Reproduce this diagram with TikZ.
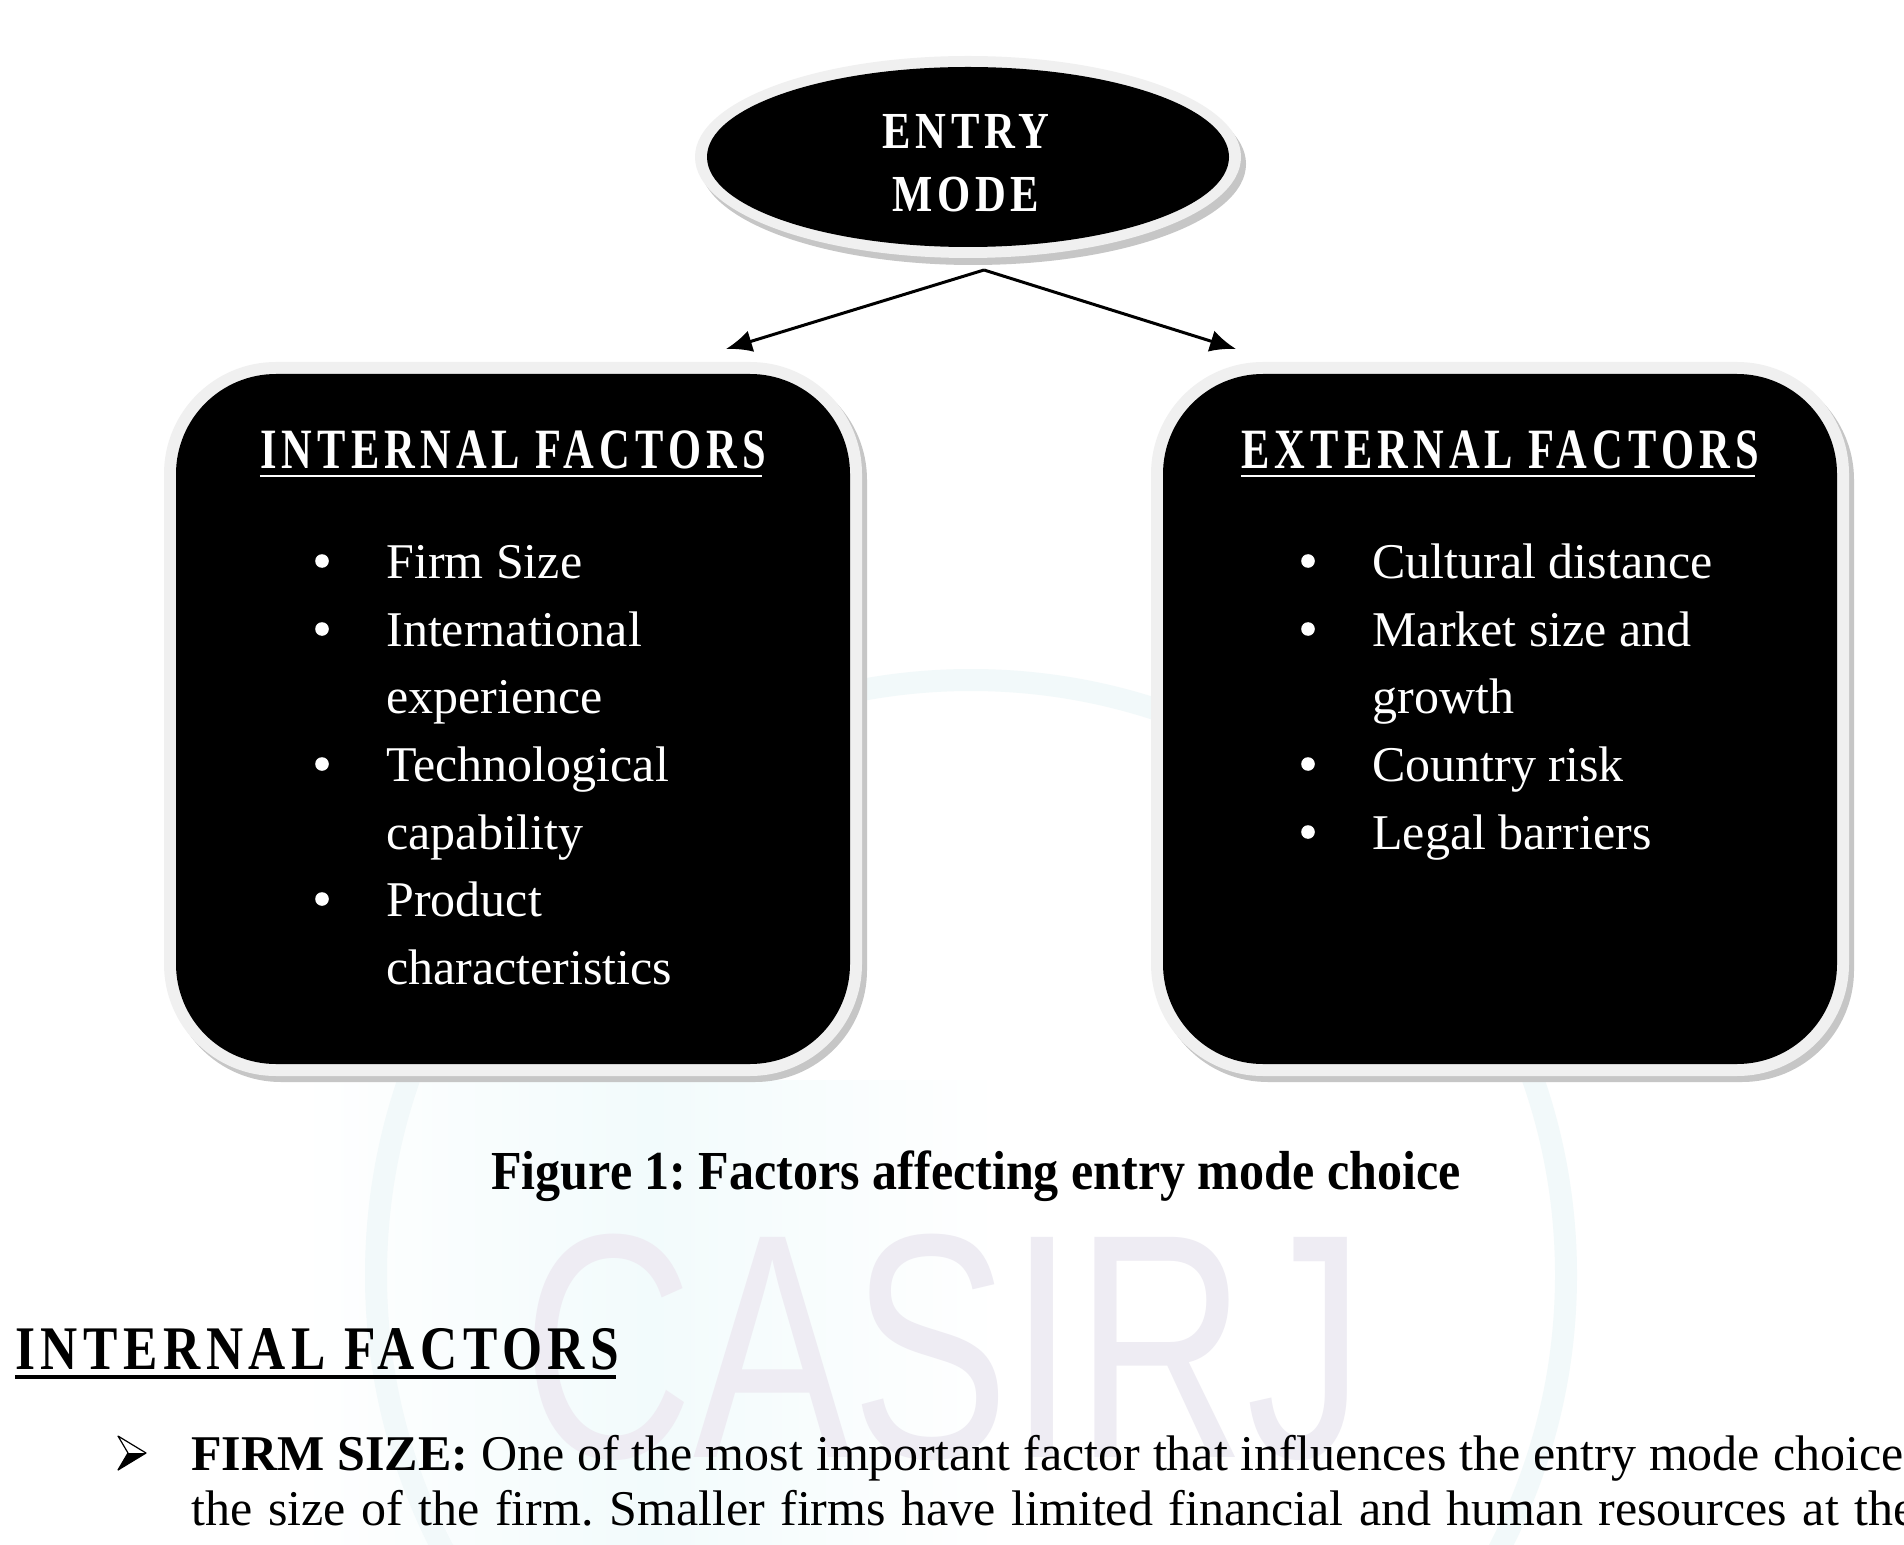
\documentclass[tikz,border=0pt]{standalone}
\usepackage{fontspec}
\setmainfont{Liberation Serif}
\newfontfamily\ellfont[FakeStretch=0.82,LetterSpace=9]{Liberation Serif}
\newfontfamily\boxhdfont[FakeStretch=0.745,LetterSpace=9]{Liberation Serif}
\newfontfamily\bighdfont[FakeStretch=0.83,LetterSpace=9]{Liberation Serif}
\newfontfamily\capfont[FakeStretch=0.91]{Liberation Serif}
\newfontfamily\wmfont[FakeStretch=0.74]{Liberation Sans}
\usetikzlibrary{arrows.meta,shapes.geometric}
\definecolor{ringgray}{RGB}{240,240,240}
\definecolor{shadegray}{RGB}{198,198,198}
\definecolor{wmcyan}{RGB}{242,249,250}
\definecolor{wmlav}{RGB}{238,236,243}
\definecolor{wmtint}{RGB}{242,251,252}
\tikzset{
  ringshape/.style={fill=ringgray, draw=none, inner sep=0},
  shadeshape/.style={fill=shadegray, draw=none, inner sep=0},
  boxshape/.style={fill=black, draw=none, inner sep=0},
  itemtext/.style={anchor=base west, text=white, inner sep=0, font=\fontsize{25}{30}\selectfont},
  bulletdot/.style={circle, fill=white, inner sep=0, minimum size=6.8pt},
  boxtitle/.style={anchor=base, text=white, inner sep=0, font=\boxhdfont\bfseries\fontsize{28.5}{30}\selectfont},
  conn/.style={line width=1.5pt, -{Latex[length=13pt,width=11pt]}},
  bodytext/.style={anchor=base west, inner sep=0, font=\fontsize{25}{30}\selectfont}
}
\frenchspacing
\begin{document}
\begin{tikzpicture}[x=0.5pt,y=-0.5pt]
\useasboundingbox (0,0) rectangle (1904,1545);
\fill[white] (0,0) rectangle (1904,1545);
% faint watermark
\fill[left color=white, right color=white, middle color=wmtint] (300,1080) rectangle (1000,1545);
\draw[wmcyan, line width=11pt] (971,1275) circle [radius=595];
\node[anchor=base west, inner sep=0, text=wmlav, font=\wmfont\fontsize{160}{160}\selectfont] (wm) at (522,1457) {CASIRJ};

% entry mode ellipse
\node[ellipse, shadeshape, minimum width=273pt, minimum height=101pt] (emshadow) at (973,164) {};
\node[ellipse, ringshape, minimum width=273pt, minimum height=101pt] (emring) at (968,157) {};
\node[ellipse, boxshape, minimum width=261pt, minimum height=90pt] (em) at (968,157) {};
\node[anchor=base, text=white, inner sep=0, font=\ellfont\bfseries\fontsize{26}{30}\selectfont] (em1) at (966,149) {ENTRY};
\node[anchor=base, text=white, inner sep=0, font=\ellfont\bfseries\fontsize{26}{30}\selectfont] (em2) at (966,212) {MODE};

% boxes
\node[shadeshape, rounded corners=56pt, minimum width=349pt, minimum height=357pt] (lshadow) at (518,725) {};
\node[ringshape, rounded corners=56pt, minimum width=349pt, minimum height=357pt] (lring) at (513,719) {};
\node[boxshape, rounded corners=50pt, minimum width=337pt, minimum height=345pt] (lbox) at (513,719) {};

\node[shadeshape, rounded corners=56pt, minimum width=349pt, minimum height=357pt] (rshadow) at (1505,725) {};
\node[ringshape, rounded corners=56pt, minimum width=349pt, minimum height=357pt] (rring) at (1500,719) {};
\node[boxshape, rounded corners=50pt, minimum width=337pt, minimum height=345pt] (rbox) at (1500,719) {};

% connectors
\coordinate (split) at (984,270);
\coordinate (ltip) at (726,349);
\coordinate (rtip) at (1236,349);
\draw[conn] (split) -- (ltip);
\draw[conn] (split) -- (rtip);

% box titles
\node[boxtitle] (lt) at (513,468) {INTERNAL FACTORS};
\draw[white, line width=1.1pt] ([yshift=-4pt]lt.base west) -- ([yshift=-4pt,xshift=-2pt]lt.base east);
\node[boxtitle] (rt) at (1500,468) {EXTERNAL FACTORS};
\draw[white, line width=1.1pt] ([yshift=-4pt]rt.base west) -- ([yshift=-4pt,xshift=-2pt]rt.base east);

% left items
\node[bulletdot] (lb1) at (322,561) {};
\node[itemtext] (li1) at (386,578) {Firm Size};
\node[bulletdot] (lb2) at (322,629) {};
\node[itemtext] (li2) at (386,646) {International};
\node[itemtext] (li2b) at (386,713) {experience};
\node[bulletdot] (lb3) at (322,764) {};
\node[itemtext] (li3) at (386,781) {Technological};
\node[itemtext] (li3b) at (386,849) {capability};
\node[bulletdot] (lb4) at (322,899) {};
\node[itemtext] (li4) at (386,916) {Product};
\node[itemtext] (li4b) at (386,984) {characteristics};

% right items
\node[bulletdot] (rb1) at (1308,561) {};
\node[itemtext] (ri1) at (1372,578) {Cultural distance};
\node[bulletdot] (rb2) at (1308,629) {};
\node[itemtext] (ri2) at (1372,646) {Market size and};
\node[itemtext] (ri2b) at (1372,713) {growth};
\node[bulletdot] (rb3) at (1308,764) {};
\node[itemtext] (ri3) at (1372,781) {Country risk};
\node[bulletdot] (rb4) at (1308,832) {};
\node[itemtext] (ri4) at (1372,849) {Legal barriers};

% caption
\node[anchor=base, inner sep=0, font=\capfont\bfseries\fontsize{27.5}{30}\selectfont] (cap) at (976,1189) {Figure 1: Factors affecting entry mode choice};

% section heading
\node[anchor=base west, inner sep=0, font=\bighdfont\bfseries\fontsize{31}{34}\selectfont] (sec) at (15,1369) {INTERNAL FACTORS};
\draw[line width=2pt] ([yshift=-4pt]sec.base west) -- ([yshift=-4pt,xshift=-2pt]sec.base east);

% arrow bullet
\coordinate (ab1) at (146,1453);
\coordinate (ab2) at (118,1436);
\coordinate (ab3) at (128,1453);
\coordinate (ab4) at (118,1470);
\fill[black] (ab1) -- (ab3) -- (ab4) -- cycle;
\draw[black, line width=0.6pt, line join=round] (ab1) -- (ab2) -- (ab3) -- (ab4) -- cycle;

% paragraph lines
\node[bodytext] (p1) at (191,1470) {\makebox[856pt][s]{\textbf{FIRM SIZE:} One of the most important factor that influences the entry mode choice}};
\node[bodytext] (p2) at (191,1525) {\makebox[862pt][s]{the size of the firm. Smaller firms have limited financial and human resources at the}};
\end{tikzpicture}
\end{document}
